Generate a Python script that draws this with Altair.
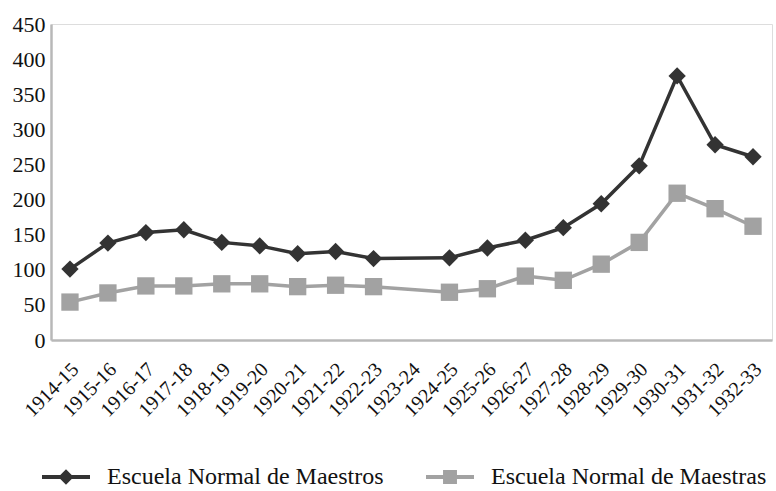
import altair as alt
import pandas as pd

# School years shown on the horizontal axis
periods = [
    "1914-15", "1915-16", "1916-17", "1917-18", "1918-19", "1919-20",
    "1920-21", "1921-22", "1922-23", "1923-24", "1924-25", "1925-26",
    "1926-27", "1927-28", "1928-29", "1929-30", "1930-31", "1931-32",
    "1932-33",
]

# Enrolment per school year (None = no figure for that year)
maestros = [101, 138, 153, 157, 139, 134, 123, 126, 116, None,
            117, 131, 142, 160, 194, 248, 376, 278, 261]
maestras = [54, 67, 77, 77, 80, 80, 76, 78, 76, None,
            68, 73, 91, 85, 108, 139, 209, 187, 162]

series = ["Escuela Normal de Maestros", "Escuela Normal de Maestras"]
colors = ["#333333", "#a2a2a2"]
markers = ["diamond", "square"]
y_ticks = [0, 50, 100, 150, 200, 250, 300, 350, 400, 450]

FONT = "Liberation Serif"

# Legend symbols: a short bar (the line) with the series marker on top, all filled
line_bar = "M-1,-0.085L1,-0.085L1,0.085L-1,0.085Z"
legend_paths = [
    line_bar + "M0,-0.32L0.32,0L0,0.32L-0.32,0Z",
    line_bar + "M-0.29,-0.29L0.29,-0.29L0.29,0.29L-0.29,0.29Z",
]
legend_x = [-9, 375]


def frame(name, values):
    rows = [
        {"periodo": p, "valor": v, "serie": name}
        for p, v in zip(periods, values)
        if v is not None
    ]
    return pd.DataFrame(rows)


x_enc = alt.X(
    "periodo:N",
    scale=alt.Scale(domain=periods, type="point", padding=0.5),
    axis=alt.Axis(
        title=None,
        labelAngle=-45,
        labelAlign="right",
        labelBaseline="middle",
        labelFont=FONT,
        labelFontSize=20,
        labelColor="#111111",
        labelPadding=26,
        labelOffset=5,
        ticks=False,
        domainColor="#b8b8b8",
        domainWidth=2.5,
        grid=False,
        labelOverlap=False,
    ),
)
y_enc = alt.Y(
    "valor:Q",
    scale=alt.Scale(domain=[0, 450], nice=False),
    axis=alt.Axis(
        title=None,
        values=y_ticks,
        labelFont=FONT,
        labelFontSize=22,
        labelColor="#111111",
        labelPadding=6,
        ticks=False,
        domainColor="#b8b8b8",
        domainWidth=2.5,
        grid=False,
    ),
)

layers = []
for i, (name, values) in enumerate(zip(series, [maestros, maestras])):
    data = frame(name, values)
    line = alt.Chart(data).mark_line(strokeWidth=3.5).encode(
        x=x_enc, y=y_enc, color=alt.value(colors[i])
    )
    pts = alt.Chart(data).mark_point(
        filled=True, opacity=1, size=300, shape=markers[i]
    ).encode(
        x=x_enc,
        y=y_enc,
        color=alt.Color(
            "serie:N",
            scale=alt.Scale(domain=[name], range=[colors[i]]),
            legend=alt.Legend(
                title=None,
                orient="none",
                legendX=legend_x[i],
                legendY=429,
                symbolType=legend_paths[i],
                symbolSize=2304,
                symbolStrokeWidth=0,
                symbolOpacity=1,
                labelFont=FONT,
                labelFontSize=24,
                labelColor="#111111",
                labelOffset=17,
                labelLimit=400,
            ),
        ),
    )
    layers += [line, pts]

chart = (
    alt.layer(*layers)
    .resolve_scale(color="independent")
    .resolve_legend(color="independent")
    .properties(
        width=721,
        height=316,
        autosize=alt.AutoSizeParams(type="none"),
        padding={"left": 51, "top": 24, "right": 4, "bottom": 151},
    )
    .configure_view(stroke=None)
    .configure(background="white")
)

chart.save("out.html", embed_options={"renderer": "svg", "actions": False})
